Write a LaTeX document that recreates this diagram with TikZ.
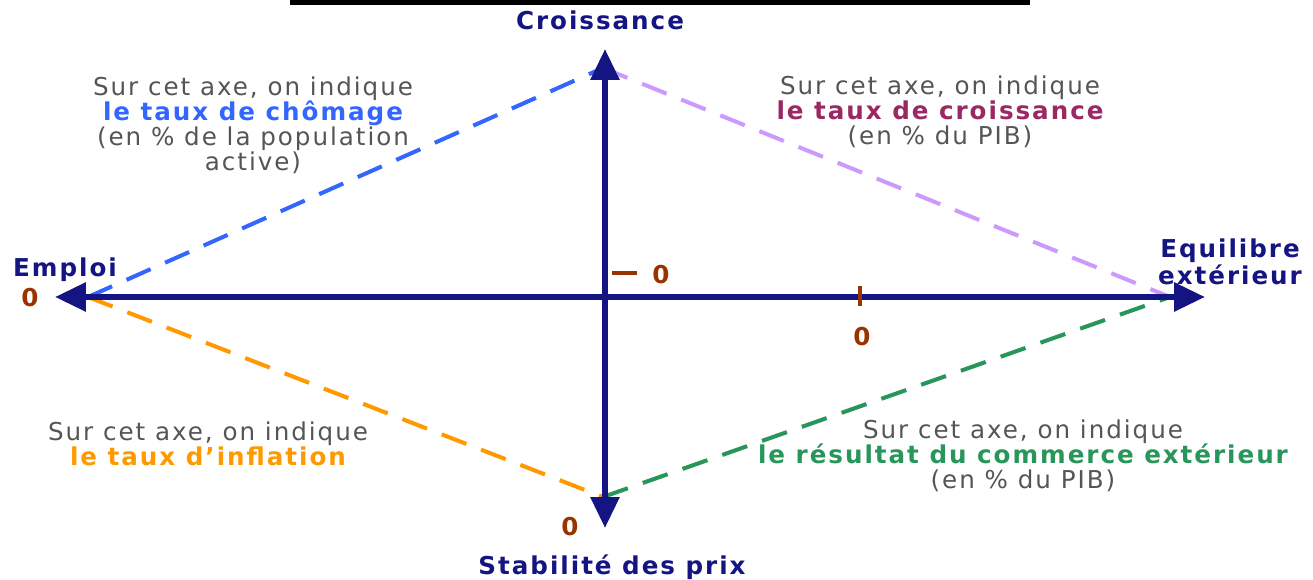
\documentclass[tikz,border=0pt]{standalone}
\usepackage{fontspec}
\setmainfont{DejaVu Sans}[LetterSpace=8]
\usetikzlibrary{arrows.meta}
\definecolor{axisblue}{RGB}{20,20,130}
\definecolor{txtgray}{RGB}{85,85,85}
\definecolor{chomblue}{RGB}{51,102,255}
\definecolor{croisred}{RGB}{153,40,100}
\definecolor{lavender}{RGB}{204,153,255}
\definecolor{inforange}{RGB}{255,153,0}
\definecolor{comgreen}{RGB}{40,150,90}
\definecolor{zerobrown}{RGB}{153,51,0}
\begin{document}
\begin{tikzpicture}[
    x=0.02cm, y=-0.02cm,
    axis/.style={line width=3.4pt, draw=axisblue, -{Triangle[length=0.62cm, width=0.56cm]}},
    dashline/.style={line width=2.3pt, dash pattern=on 15pt off 9pt, draw=#1},
    axlabel/.style={font=\fontsize{14}{15}\selectfont\bfseries, text=axisblue, align=center, inner sep=0pt},
    note/.style={font=\fontsize{14}{14.3}\selectfont, text=txtgray, align=center, inner sep=0pt},
    zero/.style={font=\fontsize{14}{15}\selectfont\bfseries, text=zerobrown, inner sep=0pt},
    tick/.style={line width=2.3pt, draw=zerobrown}
]
    \useasboundingbox (0,0) rectangle (1313,580);
    \fill[black] (290,0) rectangle (1030,5);
    % axis ends and corners
    \coordinate (O) at (605,297);
    \coordinate (top) at (605,49);
    \coordinate (bottom) at (605,528);
    \coordinate (left) at (55,297);
    \coordinate (right) at (1205,297);
    \coordinate (W) at (88,297);
    \coordinate (N) at (603,68);
    \coordinate (E) at (1170,297);
    \coordinate (S) at (603,497);
    % dashed sides
    \draw[dashline=chomblue] (W) -- (N);
    \draw[dashline=lavender] (N) -- (E);
    \draw[dashline=inforange] (W) -- (S);
    \draw[dashline=comgreen] (S) -- (E);
    % axes
    \draw[axis] (O) -- (top);
    \draw[axis] (O) -- (bottom);
    \draw[axis] (O) -- (left);
    \draw[axis] (O) -- (right);
    % ticks
    \coordinate (t1a) at (612,273);
    \coordinate (t1b) at (637,273);
    \draw[tick] (t1a) -- (t1b);
    \coordinate (t2a) at (860,286);
    \coordinate (t2b) at (860,306);
    \draw[tick] (t2a) -- (t2b);
    \node[zero] (z1) at (661,275) {0};
    \node[zero] (z2) at (862,337) {0};
    \node[zero] (z3) at (30,298) {0};
    \node[zero] (z4) at (570,527) {0};
    % axis names
    \node[axlabel] (croiss) at (600,20) {Croissance};
    \node[axlabel] (emploi) at (65,270) {Emploi};
    \node[axlabel] (equil) at (1230,262) {Equilibre\\extérieur};
    \node[axlabel] (stab) at (612,567) {Stabilité des prix};
    % notes
    \node[note] (nchom) at (253,125) {Sur cet axe, on indique\\\textcolor{chomblue}{\bfseries le taux de chômage}\\(en \% de la population\\active)};
    \node[note] (ncrois) at (940,112) {Sur cet axe, on indique\\\textcolor{croisred}{\bfseries le taux de croissance}\\(en \% du PIB)};
    \node[note] (ninfl) at (208,444) {Sur cet axe, on indique\\\textcolor{inforange}{\bfseries le taux d'inflation}};
    \node[note] (ncom) at (1023,456) {Sur cet axe, on indique\\\textcolor{comgreen}{\bfseries le résultat du commerce extérieur}\\(en \% du PIB)};
\end{tikzpicture}
\end{document}
